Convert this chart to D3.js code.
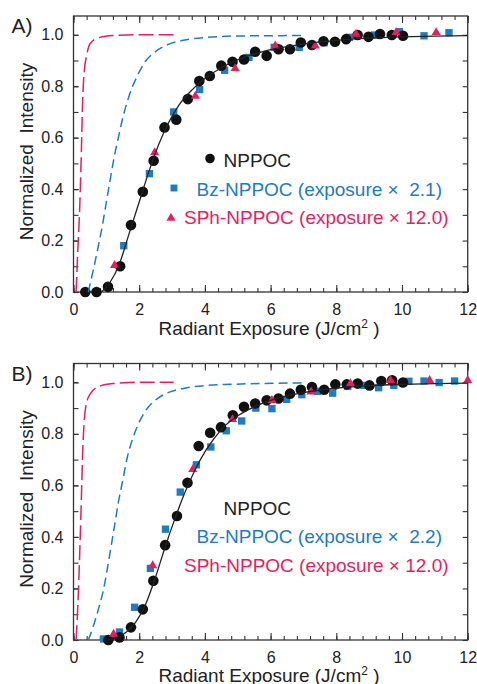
<!DOCTYPE html>
<html>
<head>
<meta charset="utf-8">
<script src="https://cdnjs.cloudflare.com/ajax/libs/d3/7.8.5/d3.min.js"></script>
<style>
  body { margin: 0; background: #fff; }
  text { font-family: "Liberation Sans", Arial, Helvetica, sans-serif; fill: #222; }
</style>
</head>
<body>
<svg id="chart" width="477" height="684"></svg>
<script>
// values, [exposure, normalized intensity]
const nppocA = [[0.36,0],[0.70,0],[1.05,0.02],[1.42,0.10],[1.75,0.26],[2.11,0.39],[2.44,0.51],[2.77,0.64],[3.13,0.67],[3.48,0.75],[3.83,0.82],[4.15,0.84],[4.50,0.88],[4.84,0.895],[5.19,0.904],[5.53,0.934],[5.88,0.918],[6.24,0.944],[6.59,0.944],[6.92,0.970],[7.26,0.960],[7.61,0.975],[7.96,0.973],[8.30,0.983],[8.65,0.999],[8.98,0.992],[9.33,1.003],[9.69,0.999],[10.03,0.996]]
const bzA = [[0.71,0],[1.53,0.18],[2.31,0.46],[3.05,0.70],[3.84,0.787],[4.60,0.862],[5.34,0.912],[6.11,0.951],[6.87,0.951],[7.63,0.969],[8.40,0.990],[9.16,0.999],[9.92,1.012],[10.67,0.996],[11.43,1.008]]
const sphA = [[1.25,0.104],[2.47,0.542],[3.71,0.762],[4.92,0.869],[6.14,0.957],[7.36,0.957],[8.60,1.003],[9.82,1.009],[11.04,1.009]]
const fitA = [[0.85,0],[1.1,0.035],[1.4,0.11],[1.7,0.23],[2.0,0.35],[2.3,0.47],[2.6,0.575],[2.9,0.66],[3.2,0.725],[3.6,0.785],[4.0,0.83],[4.5,0.872],[5.0,0.903],[5.5,0.925],[6.0,0.942],[7.0,0.964],[8.0,0.978],[9.0,0.987],[10.0,0.992],[11.0,0.995],[12.0,0.997]]
const bzFitA = [[0.45,0],[0.60,0.084],[0.75,0.175],[0.89,0.266],[1.01,0.357],[1.13,0.447],[1.24,0.525],[1.37,0.603],[1.52,0.687],[1.70,0.765],[1.93,0.837],[2.18,0.895],[2.49,0.934],[2.84,0.960],[3.35,0.979],[4.06,0.990],[4.88,0.995],[7.07,0.997]]
const sphFitA = [[0.08,0],[0.13,0.16],[0.19,0.33],[0.24,0.55],[0.28,0.75],[0.33,0.86],[0.40,0.92],[0.51,0.966],[0.80,0.99],[1.20,0.997],[2.0,1.0],[3.05,1.0]]

const nppocB = [[1.06,0],[1.40,0.01],[1.75,0.049],[2.11,0.119],[2.43,0.23],[2.79,0.368],[3.15,0.481],[3.47,0.61],[3.81,0.753],[4.16,0.804],[4.49,0.826],[4.85,0.872],[5.19,0.905],[5.53,0.918],[5.88,0.93],[6.24,0.937],[6.59,0.956],[6.92,0.971],[7.26,0.982],[7.63,0.971],[7.97,0.992],[8.32,0.992],[8.65,0.995],[9.01,0.988],[9.37,1.005],[9.70,1.008],[10.03,0.999]]
const bzB = [[0.92,0.004],[1.40,0.031],[1.86,0.127],[2.34,0.278],[2.80,0.43],[3.25,0.574],[3.74,0.68],[4.18,0.749],[4.65,0.812],[5.12,0.85],[5.55,0.90],[6.04,0.898],[6.49,0.934],[6.95,0.952],[7.43,0.965],[7.89,0.958],[8.35,0.984],[8.84,0.988],[9.29,0.979],[9.75,0.988],[10.21,1.004],[10.67,1.005],[11.13,0.999],[11.60,1.005]]
const sphB = [[1.22,0.023],[2.41,0.289],[3.63,0.662],[4.84,0.856],[6.04,0.93],[7.23,0.963],[8.43,0.995],[9.65,1.008],[10.84,1.008],[12.0,1.008]]
const fitB = [[1.05,0],[1.3,0.008],[1.6,0.03],[1.9,0.07],[2.2,0.14],[2.5,0.245],[2.8,0.365],[3.1,0.475],[3.4,0.575],[3.7,0.66],[4.0,0.73],[4.3,0.785],[4.6,0.83],[5.0,0.87],[5.5,0.905],[6.0,0.93],[7.0,0.96],[8.0,0.977],[9.0,0.987],[10.0,0.992],[11.0,0.995],[12.0,0.997]]
const bzFitB = [[0.45,0],[0.60,0.052],[0.75,0.116],[0.91,0.194],[1.04,0.284],[1.16,0.375],[1.26,0.452],[1.36,0.53],[1.50,0.62],[1.64,0.71],[1.82,0.788],[2.03,0.853],[2.28,0.904],[2.59,0.94],[2.94,0.963],[3.45,0.979],[4.06,0.988],[4.77,0.992],[7.04,0.998]]
const sphFitB = [[0.08,0],[0.15,0.19],[0.20,0.38],[0.24,0.55],[0.28,0.73],[0.32,0.84],[0.38,0.91],[0.51,0.955],[0.80,0.985],[1.20,0.995],[2.0,1.0],[3.05,1.0]]

const legendA = ['NPPOC', 'Bz-NPPOC (exposure \u00d7  2.1)', 'SPh-NPPOC (exposure \u00d7 12.0)']
const legendB = ['NPPOC', 'Bz-NPPOC (exposure \u00d7  2.2)', 'SPh-NPPOC (exposure \u00d7 12.0)']
const xTickLabels = [0, 2, 4, 6, 8, 10, 12]
const yTickLabels = [0, 0.2, 0.4, 0.6, 0.8, 1.0]

const black = '#111'
const blue = '#1d7cc4'
const pink = '#e61e5e'

const svg = d3.select('#chart')
const margin = { left: 73.5, right: 9.3 }
const innerWidth = +svg.attr('width') - margin.left - margin.right

const renderPanel = p => {
    const innerHeight = p.height

    const xScale = d3.scaleLinear()
        .domain([0, 12])
        .range([0, innerWidth])

    const yScale = d3.scaleLinear()
        .domain([0, 1.073])
        .range([innerHeight, 0])

    const g = svg.append('g')
        .attr('transform', `translate(${margin.left},${p.top})`)

    const minorX = d3.range(0, 12.001, 0.4)
    const minorY = d3.range(0, 1.0001, 0.1)

    // inward ticks on all four sides
    g.append('g').attr('transform', `translate(0,${innerHeight})`)
        .call(d3.axisBottom(xScale).tickValues(minorX).tickSize(-4).tickFormat(''))
    const xAxisG = g.append('g').attr('transform', `translate(0,${innerHeight})`)
        .call(d3.axisBottom(xScale).tickValues(xTickLabels).tickSize(-7).tickPadding(12))
    g.append('g')
        .call(d3.axisTop(xScale).tickValues(minorX).tickSize(-4).tickFormat(''))
    g.append('g')
        .call(d3.axisTop(xScale).tickValues(xTickLabels).tickSize(-7).tickFormat(''))
    g.append('g')
        .call(d3.axisLeft(yScale).tickValues(minorY).tickSize(-5).tickFormat(''))
    const yAxisG = g.append('g')
        .call(d3.axisLeft(yScale).tickValues(yTickLabels).tickSize(-5).tickPadding(10).tickFormat(d3.format('.1f')))
    g.append('g').attr('transform', `translate(${innerWidth},0)`)
        .call(d3.axisRight(yScale).tickValues(minorY).tickSize(-5).tickFormat(''))

    g.selectAll('.domain').remove()
    g.selectAll('.tick line').attr('stroke', '#333').attr('stroke-width', 1.1)
    g.selectAll('.tick text').attr('font-size', 16).attr('fill', '#222')
        .attr('font-family', '"Liberation Sans", Arial, sans-serif')

    g.append('rect')
        .attr('width', innerWidth)
        .attr('height', innerHeight)
        .attr('fill', 'none')
        .attr('stroke', '#333')
        .attr('stroke-width', 1.3)

    // axis titles
    yAxisG.append('text')
        .attr('transform', 'rotate(-90)')
        .attr('x', -135.5)
        .attr('y', -40.5)
        .attr('text-anchor', 'middle')
        .attr('font-size', 19)
        .style('white-space', 'pre')
        .text('Normalized  Intensity')

    const xt = xAxisG.append('text')
        .attr('x', 195.5)
        .attr('y', p.titleY)
        .attr('text-anchor', 'middle')
        .attr('font-size', 19)
    xt.append('tspan').text('Radiant Exposure (J/cm')
    xt.append('tspan').attr('font-size', 12).attr('dy', -7).text('2')
    xt.append('tspan').attr('dy', 7).text(' )').style('white-space', 'pre')

    g.append('text')
        .attr('x', -62)
        .attr('y', 17)
        .attr('font-size', 21)
        .text(p.label)

    // markers
    g.selectAll('.bz').data(p.bz).enter()
        .append('path')
        .attr('class', 'bz')
        .attr('transform', d => `translate(${xScale(d[0])},${yScale(d[1])})`)
        .attr('d', d3.symbol(d3.symbolSquare, 54))
        .attr('fill', blue)

    g.selectAll('.np').data(p.nppoc).enter()
        .append('circle')
        .attr('class', 'np')
        .attr('cx', d => xScale(d[0]))
        .attr('cy', d => yScale(d[1]))
        .attr('r', 5.3)
        .attr('fill', black)

    g.selectAll('.sph').data(p.sph).enter()
        .append('path')
        .attr('class', 'sph')
        .attr('transform', d => `translate(${xScale(d[0])},${yScale(d[1])})`)
        .attr('d', d3.symbol(d3.symbolTriangle, 36))
        .attr('fill', pink)

    // fit curves
    const lineGenerator = d3.line()
        .x(d => xScale(d[0]))
        .y(d => yScale(d[1]))
        .curve(d3.curveMonotoneX)

    g.append('path')
        .attr('d', lineGenerator(p.sphFit))
        .attr('fill', 'none')
        .attr('stroke', pink)
        .attr('stroke-width', 1.5)
        .attr('stroke-dasharray', '15,5')

    g.append('path')
        .attr('d', lineGenerator(p.bzFit))
        .attr('fill', 'none')
        .attr('stroke', blue)
        .attr('stroke-width', 1.5)
        .attr('stroke-dasharray', '9,5')

    g.append('path')
        .attr('d', lineGenerator(p.fit))
        .attr('fill', 'none')
        .attr('stroke', '#222')
        .attr('stroke-width', 1.3)

    // legend
    const rows = [
        { x: 150, y: 151, color: '#222' },
        { x: 123, y: 179.5, color: blue },
        { x: 110.5, y: 208, color: pink }
    ]
    g.selectAll('.legend').data(p.legend).enter()
        .append('text')
        .attr('class', 'legend')
        .attr('x', (d, i) => rows[i].x)
        .attr('y', (d, i) => rows[i].y)
        .attr('font-size', 19)
        .style('fill', (d, i) => rows[i].color)
        .style('white-space', 'pre')
        .text(d => d)

    if (p.legendMarks) {
        g.append('circle').attr('cx', 136.5).attr('cy', 142.5).attr('r', 4.8).attr('fill', black)
        g.append('path').attr('transform', 'translate(100.5,172)')
            .attr('d', d3.symbol(d3.symbolSquare, 48)).attr('fill', blue)
        g.append('path').attr('transform', 'translate(97.5,202)')
            .attr('d', d3.symbol(d3.symbolTriangle, 36)).attr('fill', pink)
    }
}

renderPanel({ top: 16, height: 276, label: 'A)', titleY: 43, nppoc: nppocA, bz: bzA, sph: sphA,
    fit: fitA, bzFit: bzFitA, sphFit: sphFitA, legend: legendA, legendMarks: true })
renderPanel({ top: 363.5, height: 276.5, label: 'B)', titleY: 41.5, nppoc: nppocB, bz: bzB, sph: sphB,
    fit: fitB, bzFit: bzFitB, sphFit: sphFitB, legend: legendB, legendMarks: false })
</script>
</body>
</html>
